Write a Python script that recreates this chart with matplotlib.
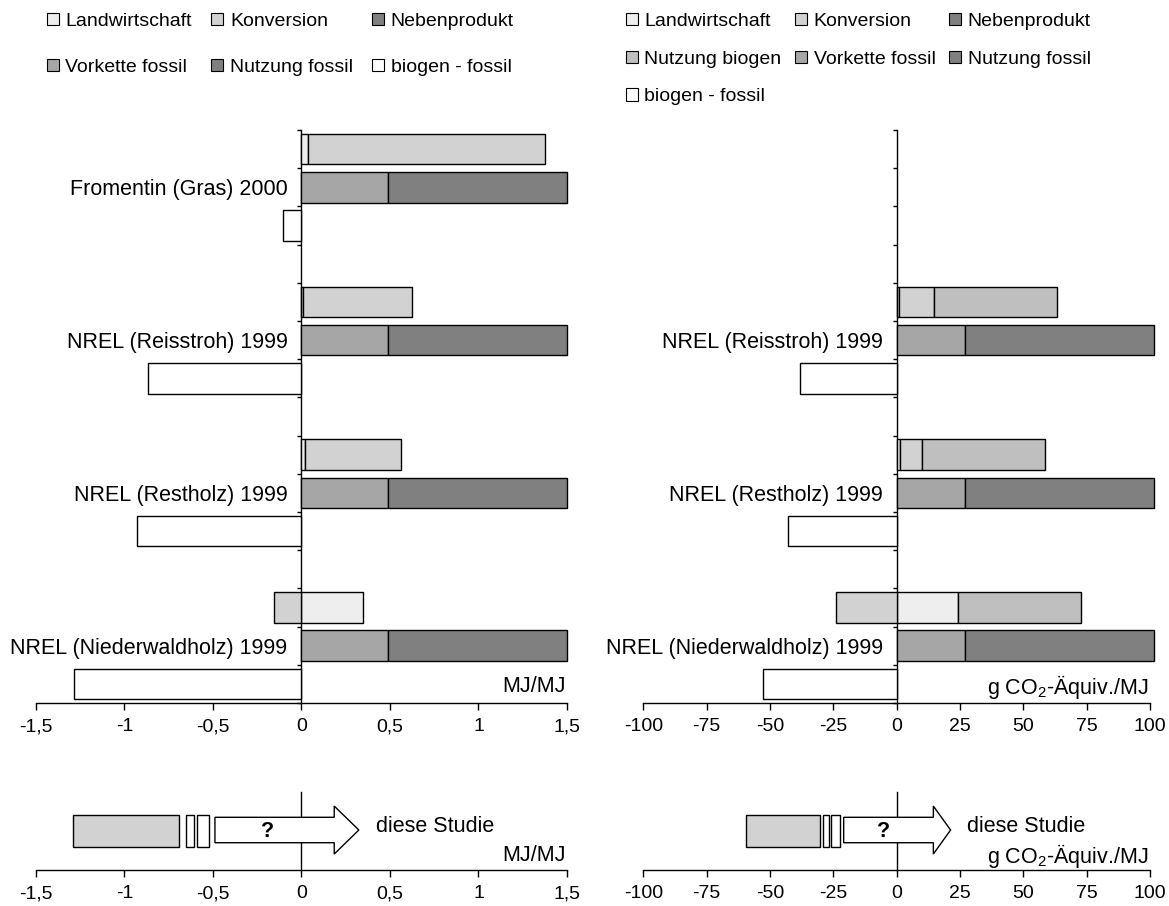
import matplotlib
matplotlib.use("Agg")
import matplotlib.pyplot as plt
from matplotlib.patches import Patch, Polygon, Rectangle
import numpy as np

plt.rcParams['font.family'] = ['Liberation Sans', 'DejaVu Sans']
plt.rcParams['mathtext.fontset'] = 'custom'
plt.rcParams['mathtext.rm'] = 'Liberation Sans'
plt.rcParams['mathtext.it'] = 'Liberation Sans:italic'

# --- data ---
studies = ["Fromentin (Gras) 2000", "NREL (Reisstroh) 1999",
           "NREL (Restholz) 1999", "NREL (Niederwaldholz) 1999"]

# energy balance, MJ/MJ
landw_e = [0.035, 0.01, 0.02, 0.345]
konv_e = [1.34, 0.615, 0.54, -0.155]
neben_e = [0.0, 0.0, 0.0, 0.0]
vork_fos_e = [0.49, 0.49, 0.49, 0.49]
nutz_fos_e = [1.01, 1.01, 1.01, 1.01]
bio_fos_e = [-0.107, -0.865, -0.93, -1.284]

# greenhouse gases, g CO2-eq./MJ (no data for Fromentin)
landw_g = [np.nan, 1.0, 1.5, 24.3]
konv_g = [np.nan, 13.7, 8.6, -24.1]
neben_g = [np.nan, 0.0, 0.0, 0.0]
nutz_bio_g = [np.nan, 48.5, 48.4, 48.3]
vork_fos_g = [np.nan, 26.8, 26.8, 26.8]
nutz_fos_g = [np.nan, 74.8, 74.8, 74.8]
bio_fos_g = [np.nan, -38.2, -43.0, -52.9]

# "diese Studie" schematic: (start, width) of the boxes, arrow start / head / tip
studie_boxes_e = [(-1.29, 0.597), (-0.65, 0.042), (-0.588, 0.067)]
studie_arrow_e = (-0.489, 0.185, 0.324)
studie_boxes_g = [(-59.6, 29.3), (-29.0, 2.3), (-25.8, 3.4)]
studie_arrow_g = (-20.9, 14.5, 21.3)

ticks_e = [-1.5, -1, -0.5, 0, 0.5, 1, 1.5]
ticks_g = [-100, -75, -50, -25, 0, 25, 50, 75, 100]

# --- styles ---
c_landw = '#eeeeee'
c_konv = '#d2d2d2'
c_neben = '#808080'
c_nutz_bio = '#bfbfbf'
c_vork = '#a6a6a6'
c_nutz_fos = '#808080'
c_bio_fos = '#ffffff'

FS_LAB = 15.5
FS_TICK = 14
FS_LEG = 14
BAR_H = 0.8

fig = plt.figure(figsize=(11.69, 9.06), dpi=100)


def fmt(v):
    return "{:g}".format(v).replace('.', ',')


def stacked(ax, y, series):
    pos = np.zeros(len(y))
    neg = np.zeros(len(y))
    for vals, col in series:
        vals = np.asarray(vals, dtype=float)
        ok = ~np.isnan(vals) & (vals != 0)
        left = np.where(vals >= 0, pos, neg)
        ax.barh(y[ok], vals[ok], left=left[ok], height=BAR_H, color=col,
                edgecolor='black', linewidth=1.0, zorder=3, clip_on=False)
        v = np.nan_to_num(vals)
        pos += np.where(v > 0, v, 0)
        neg += np.where(v < 0, v, 0)


def style_axis(ax, ticks, xlim):
    ax.set_xlim(*xlim)
    ax.set_xticks(ticks)
    ax.set_xticklabels([fmt(t) for t in ticks], fontsize=FS_TICK)
    ax.tick_params(axis='x', direction='out', length=5, width=1, pad=6)
    for s in ['top', 'right']:
        ax.spines[s].set_visible(False)
    ax.spines['left'].set_position(('data', 0))
    ax.spines['left'].set_linewidth(1)
    ax.spines['bottom'].set_linewidth(1)
    ax.set_facecolor('none')


def main_panel(rect, top, fossil, bio, ticks, xlim, labels, unit):
    ax = fig.add_axes(rect)
    base = np.arange(len(studies)) * 4
    stacked(ax, base + 0.5, top)
    stacked(ax, base + 1.5, fossil)
    stacked(ax, base + 2.5, bio)
    ax.set_ylim(15, 0)
    style_axis(ax, ticks, xlim)
    ax.set_yticks(base + 1.5)
    ax.set_yticklabels(labels, fontsize=FS_LAB)
    ax.set_yticks(np.arange(0, 16), minor=True)
    ax.tick_params(axis='y', which='major', length=0, pad=10)
    ax.tick_params(axis='y', which='minor', length=3, width=1, direction='out')
    ax.text(0.997, 0.028, unit, transform=ax.transAxes, ha='right', va='center',
            fontsize=FS_LAB)
    return ax


def studie_panel(rect, boxes, arrow, ticks, xlim, unit):
    ax = fig.add_axes(rect)
    ax.set_ylim(0, 1)
    style_axis(ax, ticks, xlim)
    ax.set_yticks([])
    for i, (x0, w) in enumerate(boxes):
        ax.add_patch(Rectangle((x0, 0.30), w, 0.40,
                               facecolor=c_konv if i == 0 else 'white',
                               edgecolor='black', linewidth=1.0, zorder=3))
    a0, a1, a2 = arrow
    pts = [(a0, 0.35), (a1, 0.35), (a1, 0.205), (a2, 0.513), (a1, 0.82),
           (a1, 0.676), (a0, 0.676)]
    ax.add_patch(Polygon(pts, closed=True, facecolor='white', edgecolor='black',
                         linewidth=1.0, zorder=3))
    ax.text((a0 + a1) / 2 - (a1 - a0) * 0.06, 0.50, '?', ha='center', va='center',
            fontsize=FS_LAB, fontweight='bold', zorder=4)
    ax.text(a2 + (xlim[1] - xlim[0]) * 0.033, 0.56, 'diese Studie', ha='left',
            va='center', fontsize=FS_LAB)
    ax.text(0.997, 0.18, unit, transform=ax.transAxes, ha='right', va='center',
            fontsize=FS_LAB)
    return ax


unit_e = 'MJ/MJ'
unit_g = 'g CO$_2$-Äquiv./MJ'

ax_l = main_panel([0.0308, 0.2241, 0.4542, 0.6325],
                  [(landw_e, c_landw), (konv_e, c_konv), (neben_e, c_neben)],
                  [(vork_fos_e, c_vork), (nutz_fos_e, c_nutz_fos)],
                  [(bio_fos_e, c_bio_fos)],
                  ticks_e, (-1.5, 1.5), studies, unit_e)

ax_r = main_panel([0.5503, 0.2241, 0.4334, 0.6325],
                  [(landw_g, c_landw), (konv_g, c_konv), (neben_g, c_neben),
                   (nutz_bio_g, c_nutz_bio)],
                  [(vork_fos_g, c_vork), (nutz_fos_g, c_nutz_fos)],
                  [(bio_fos_g, c_bio_fos)],
                  ticks_g, (-100, 100), [''] + studies[1:], unit_g)

studie_panel([0.0308, 0.0397, 0.4542, 0.0861], studie_boxes_e, studie_arrow_e,
             ticks_e, (-1.5, 1.5), unit_e)
studie_panel([0.5503, 0.0397, 0.4334, 0.0861], studie_boxes_g, studie_arrow_g,
             ticks_g, (-100, 100), unit_g)


# --- legends ---
def h(col):
    return Patch(facecolor=col, edgecolor='black', linewidth=0.8)


leg_kw = dict(ncol=3, frameon=False, fontsize=FS_LEG, handlelength=0.6,
              handleheight=0.6, handletextpad=0.35, borderpad=0, borderaxespad=0)

# matplotlib fills legend columns first -> order entries column by column
fig.legend([h(c_landw), h(c_vork), h(c_konv), h(c_nutz_fos), h(c_neben), h(c_bio_fos)],
           ['Landwirtschaft', 'Vorkette fossil', 'Konversion', 'Nutzung fossil',
            'Nebenprodukt', 'biogen - fossil'],
           loc='upper left', bbox_to_anchor=(47 / 1169, 1 - 13 / 906),
           columnspacing=1.0, labelspacing=1.47, **leg_kw)

fig.legend([h(c_landw), h(c_nutz_bio), h(c_bio_fos), h(c_konv), h(c_vork),
            h(c_neben), h(c_nutz_fos)],
           ['Landwirtschaft', 'Nutzung biogen', 'biogen - fossil', 'Konversion',
            'Vorkette fossil', 'Nebenprodukt', 'Nutzung fossil'],
           loc='upper left', bbox_to_anchor=(626 / 1169, 1 - 13 / 906),
           columnspacing=0.7, labelspacing=1.06, **leg_kw)

fig.savefig('out.png', dpi=100, facecolor='white')
